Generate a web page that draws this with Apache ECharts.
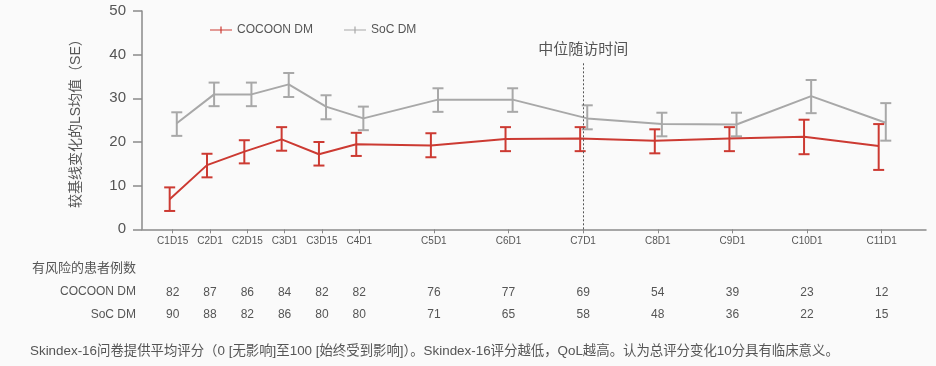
<!DOCTYPE html>
<html>
<head>
<meta charset="utf-8">
<script src="https://cdn.jsdelivr.net/npm/echarts@6/dist/echarts.min.js"></script>
<style>
html,body{margin:0;padding:0;background:#fafafa;}
#main{width:936px;height:366px;}
</style>
</head>
<body>
<div id="main"></div>
<script>
// ---- data ----
var categories = ['C1D15','C2D1','C2D15','C3D1','C3D15','C4D1','C5D1','C6D1','C7D1','C8D1','C9D1','C10D1','C11D1'];
var visitPos   = [1.5, 2, 2.5, 3, 3.5, 4, 5, 6, 7, 8, 9, 10, 11]; // cycle position of each visit
var cocoonMean = [6.9, 14.7, 17.8, 20.6, 17.2, 19.5, 19.2, 20.7, 20.8, 20.3, 20.8, 21.2, 19.1];
var cocoonLow  = [4.2, 11.9, 15.1, 18.0, 14.6, 16.8, 16.5, 17.9, 17.9, 17.4, 17.9, 17.2, 13.6];
var cocoonHigh = [9.6, 17.3, 20.4, 23.4, 20.0, 22.1, 22.0, 23.4, 23.4, 22.9, 23.4, 25.1, 24.1];
var socMean    = [24.3, 30.9, 30.9, 33.2, 28.1, 25.4, 29.7, 29.7, 25.4, 24.1, 24.0, 30.5, 24.4];
var socLow     = [21.4, 28.2, 28.2, 30.3, 25.2, 22.7, 26.9, 26.9, 22.9, 21.3, 21.3, 26.6, 20.3];
var socHigh    = [26.8, 33.6, 33.6, 35.8, 30.7, 28.1, 32.3, 32.3, 28.4, 26.7, 26.7, 34.2, 28.9];
var cocoonAtRisk = [82, 87, 86, 84, 82, 82, 76, 77, 69, 54, 39, 23, 12];
var socAtRisk    = [90, 88, 82, 86, 80, 80, 71, 65, 58, 48, 36, 22, 15];
var seriesNames = ['COCOON DM', 'SoC DM'];
var yTicks = [0, 10, 20, 30, 40, 50];
var medianVisit = 7;      // C7D1
var medianLineTop = 38.3;
var medianLabel = '中位随访时间';
var yAxisTitle = '较基线变化的LS均值（SE）';
var atRiskTitle = '有风险的患者例数';
var footnote = 'Skindex-16问卷提供平均评分（0 [无影响]至100 [始终受到影响]）。Skindex-16评分越低，QoL越高。认为总评分变化10分具有临床意义。';

// ---- styling ----
var RED = '#cc3a32', GRAY = '#a8a8a8', TXT = '#555555', AX = '#8a8a8a';
var FONT = "'Liberation Sans', 'Noto Sans CJK SC', sans-serif";
var DODGE = [-0.04, 0.055];
var XMIN = 1.089, XMAX = 11.594;

function lineData(mean, d){ return mean.map(function(v,i){ return [visitPos[i] + d, v]; }); }
function errData(lo, hi, d){ return lo.map(function(v,i){ return [visitPos[i] + d, v, hi[i]]; }); }
function errRender(color){
  return function(params, api){
    var x = api.value(0);
    var p1 = api.coord([x, api.value(1)]);
    var p2 = api.coord([x, api.value(2)]);
    var hw = 5.5;
    var st = {stroke: color, lineWidth: 2};
    return {type:'group', children:[
      {type:'line', shape:{x1:p1[0], y1:p1[1], x2:p2[0], y2:p2[1]}, style:st},
      {type:'line', shape:{x1:p1[0]-hw, y1:p1[1], x2:p1[0]+hw, y2:p1[1]}, style:st},
      {type:'line', shape:{x1:p2[0]-hw, y1:p2[1], x2:p2[0]+hw, y2:p2[1]}, style:st}
    ]};
  };
}
function labelFor(arr){
  return function(v){
    for (var i=0;i<visitPos.length;i++){ if (Math.abs(visitPos[i]-v) < 1e-6) return String(arr[i]); }
    return '';
  };
}
var legendIcon = 'path://M0,4.4H22V5.6H0Z M10.4,1.5H11.6V8.5H10.4Z';

var chart = echarts.init(document.getElementById('main'), null, {renderer:'canvas'});
var option = {
  backgroundColor: '#fafafa',
  animation: false,
  textStyle: {fontFamily: FONT},
  legend: {
    left: 205, top: 19, itemWidth: 22, itemHeight: 10, itemGap: 31,
    textStyle: {color: TXT, fontSize: 12, fontFamily: FONT},
    data: [
      {name: seriesNames[0], icon: legendIcon, itemStyle:{color: RED}},
      {name: seriesNames[1], icon: legendIcon, itemStyle:{color: GRAY}}
    ]
  },
  grid: [
    {left: 142, right: 10, top: 11, bottom: 136.7},
    {left: 142, right: 10, top: 291.7, height: 1},
    {left: 142, right: 10, top: 314, height: 1}
  ],
  xAxis: [
    {type:'value', gridIndex:0, min: XMIN, max: XMAX,
     axisLine:{lineStyle:{color:AX, width:1.5}},
     splitLine:{show:false},
     axisTick:{customValues: visitPos, length:4, lineStyle:{color:AX}},
     axisLabel:{customValues: visitPos, formatter: labelFor(categories), color: TXT, fontSize: 10, margin: 7, fontFamily: FONT}},
    {type:'value', gridIndex:1, min: XMIN, max: XMAX,
     axisLine:{show:false}, axisTick:{show:false}, splitLine:{show:false},
     axisLabel:{customValues: visitPos, formatter: labelFor(cocoonAtRisk), color: TXT, fontSize: 12, margin: 0, verticalAlign:'middle', fontFamily: FONT}},
    {type:'value', gridIndex:2, min: XMIN, max: XMAX,
     axisLine:{show:false}, axisTick:{show:false}, splitLine:{show:false},
     axisLabel:{customValues: visitPos, formatter: labelFor(socAtRisk), color: TXT, fontSize: 12, margin: 0, verticalAlign:'middle', fontFamily: FONT}}
  ],
  yAxis: [
    {type:'value', gridIndex:0, min: yTicks[0], max: yTicks[yTicks.length-1], interval: 10,
     name: yAxisTitle, nameLocation:'middle', nameGap: 59, nameRotate: 90,
     nameTextStyle:{color: TXT, fontSize: 14, fontFamily: FONT},
     axisLine:{show:true, lineStyle:{color:AX, width:1.5}},
     axisTick:{show:true, length:9, lineStyle:{color:AX, width:1.5}},
     splitLine:{show:false},
     axisLabel:{color: TXT, fontSize: 15, margin: 16, fontFamily: FONT}},
    {type:'value', gridIndex:1, show:false},
    {type:'value', gridIndex:2, show:false}
  ],
  graphic: [
    {type:'text', left: 32, top: 262, style:{text: atRiskTitle, fill: TXT, font: '13px ' + FONT}},
    {type:'text', right: 800, top: 286, style:{text: seriesNames[0], fill: TXT, font: '12px ' + FONT, textAlign:'right'}},
    {type:'text', right: 800, top: 309, style:{text: seriesNames[1], fill: TXT, font: '12px ' + FONT, textAlign:'right'}},
    {type:'text', left: 30, top: 345, style:{text: footnote, fill: TXT, font: '13.4px ' + FONT}}
  ],
  series: [
    {name: seriesNames[1], type:'line', data: lineData(socMean, DODGE[1]), showSymbol:false,
     lineStyle:{color: GRAY, width:2}, itemStyle:{color: GRAY}, z: 2},
    {name: seriesNames[1], type:'custom', data: errData(socLow, socHigh, DODGE[1]),
     renderItem: errRender(GRAY), encode:{x:0, y:[1,2]}, z: 2},
    {name: seriesNames[0], type:'line', data: lineData(cocoonMean, DODGE[0]), showSymbol:false,
     lineStyle:{color: RED, width:2}, itemStyle:{color: RED}, z: 3,
     markLine: {
       silent: true, symbol: ['none','none'],
       lineStyle:{color:'#555', type:[2,2], width:1},
       label:{show:true, position:'end', formatter: medianLabel, color: TXT, fontSize: 15, distance: 5, fontFamily: FONT},
       data: [[{coord:[medianVisit, 0]}, {coord:[medianVisit, medianLineTop]}]]
     }},
    {name: seriesNames[0], type:'custom', data: errData(cocoonLow, cocoonHigh, DODGE[0]),
     renderItem: errRender(RED), encode:{x:0, y:[1,2]}, z: 3}
  ]
};
chart.setOption(option);
</script>
</body>
</html>
